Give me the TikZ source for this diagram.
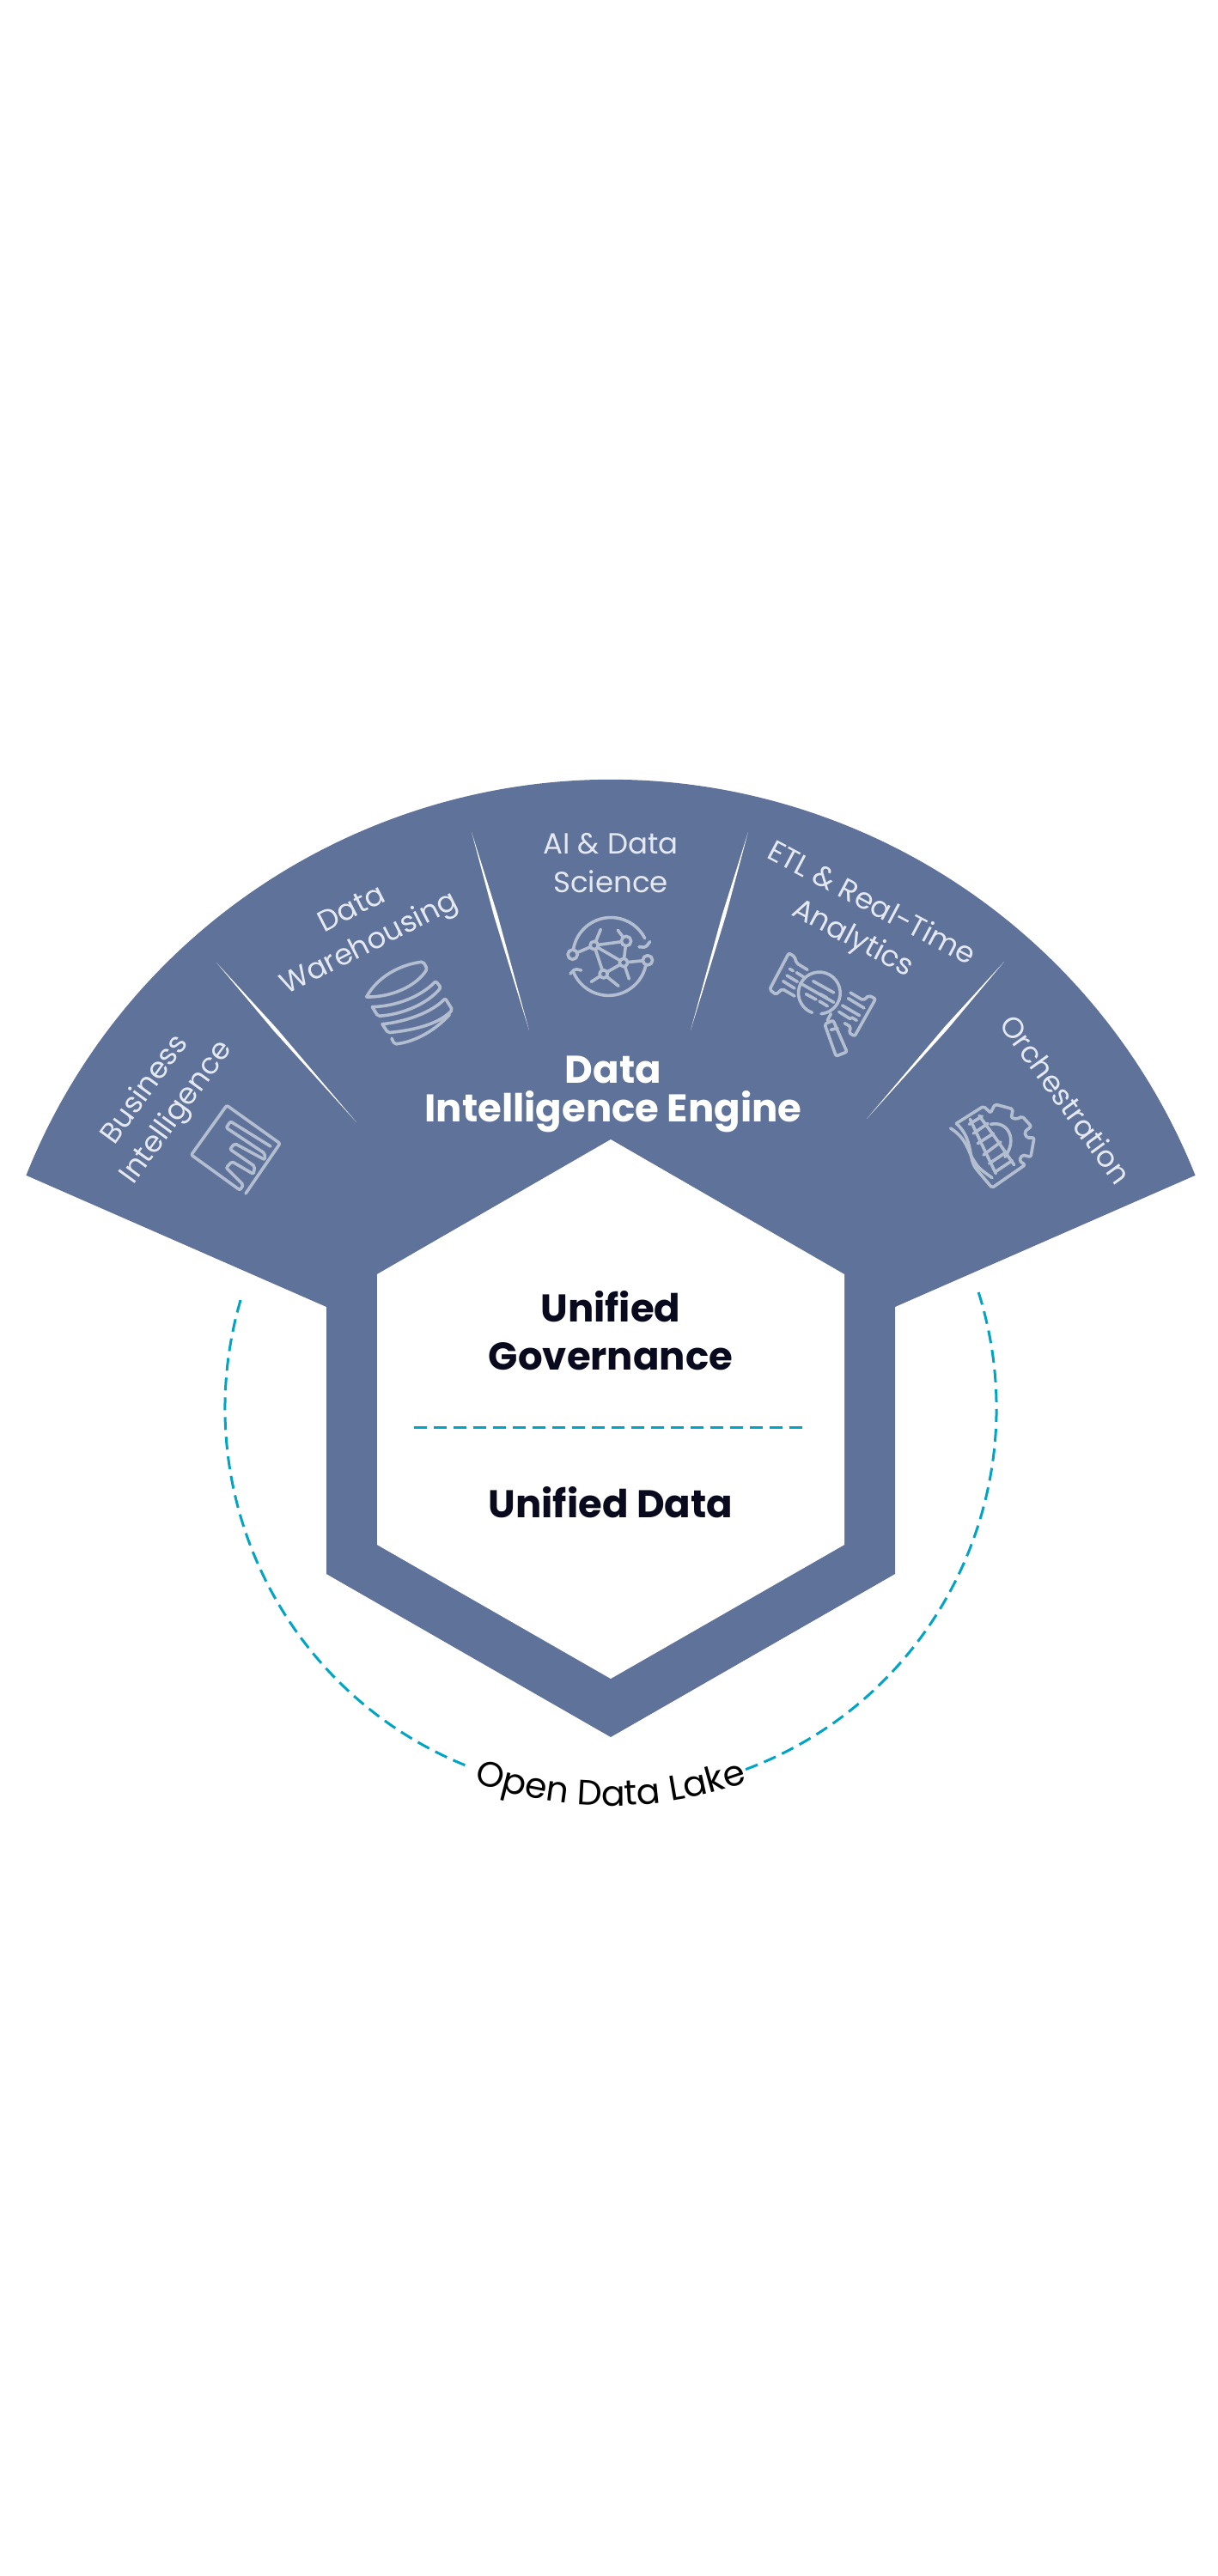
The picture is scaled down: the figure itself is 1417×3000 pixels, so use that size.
\documentclass[tikz,border=0pt]{standalone}
\usepackage{fontspec}
\setmainfont{Poppins}
\newfontfamily\thinface{Poppins}[UprightFont=* Regular]
\newfontfamily\heavyface{Poppins}[UprightFont=* Bold]
\usepackage{xcolor}
\definecolor{fanBlue}{HTML}{5F7299}
\definecolor{iconGrey}{HTML}{B4BED1}
\definecolor{labelGrey}{HTML}{E4E8F0}
\definecolor{lakeTeal}{HTML}{00A4C4}
\definecolor{inkNavy}{HTML}{0A0A1E}
\usetikzlibrary{calc, decorations.text}

\begin{document}
\begin{tikzpicture}[
    x=1pt, y=-1pt,
    fanlabel/.style={
        align=center,
        text=labelGrey,
        inner sep=0pt,
        font=\thinface\fontsize{34}{45}\selectfont
    },
    enginelabel/.style={
        align=center,
        text=white,
        inner sep=0pt,
        font=\heavyface\fontsize{45}{45}\selectfont
    },
    corelabel/.style={
        align=center,
        text=inkNavy,
        inner sep=0pt,
        font=\heavyface\fontsize{45}{56}\selectfont
    },
    lakeline/.style={
        draw=lakeTeal,
        line width=3pt,
        dash pattern=on 15pt off 8pt
    },
    iconline/.style={
        draw=iconGrey,
        line width=3.6pt,
        line cap=round,
        line join=round,
        rounded corners=2pt
    },
    iconbox/.style={
        shift={(#1)}, x=0.3333pt, y=-0.3333pt
    }
]
\useasboundingbox (0,0) rectangle (1417,3000);

% fan and hexagon
\fill[fanBlue] (711,1641) ++(201.8:733) arc[start angle=201.8, end angle=338.2, radius=733]
    -- (1042,1522) -- (1042,1833) -- (711,2023) -- (380,1833) -- (380,1522) -- cycle;
\fill[white] (711,1327) -- (983,1484) -- (983,1799) -- (711,1955) -- (439,1799) -- (439,1484) -- cycle;

% white slivers between the sectors
\foreach \ax/\ay/\bx/\by in {252/1121/415/1307, 549/969/616/1200, 871/969/804/1200, 1169/1120/1009/1303} {
    \coordinate (tipa) at (\ax,\ay);
    \coordinate (tipb) at (\bx,\by);
    \fill[white] (tipa) -- ($(tipa)!.42!(tipb)!2.2pt!90:(tipb)$) -- (tipb)
        -- ($(tipa)!.42!(tipb)!2.2pt!-90:(tipb)$) -- cycle;
}

\node[fanlabel, rotate=54] (bi) at (188,1283) {Business\\Intelligence};
\node[fanlabel, rotate=27] (dw) at (421,1081) {Data\\Warehousing};
\node[fanlabel] (ai) at (711,1005) {AI \& Data\\Science};
\node[fanlabel, rotate=-28] (etl) at (1003,1074) {ETL \& Real-Time\\Analytics};
\node[fanlabel, rotate=-54] (orch) at (1241,1280) {Orchestration};

\node[enginelabel] (engine) at (714,1274) {Data\\Intelligence Engine};
\node[corelabel] (gov) at (711,1550) {Unified\\Governance};
\node[corelabel] (unidata) at (711,1750) {Unified Data};

% open data lake
\draw[lakeline] (482,1662) -- (939,1662);
\draw[lakeline] (711,1640) ++(196.3:449) arc[start angle=196.3, end angle=111.8, radius=449];
\draw[lakeline] (711,1640) ++(-17.5:449) arc[start angle=-17.5, end angle=70.2, radius=449];
\path[decorate, decoration={text along path, text align=center,
    text={|\thinface\fontsize{41}{41}\selectfont\color{black}|Open Data Lake}}]
    (711,1640) ++(118:463) arc[start angle=118, end angle=62, radius=463];

% business intelligence icon
\begin{scope}[iconbox={200,1280}]
\draw[iconline] (258,330) -- (378,155) -- (192,22) -- (68,195) -- (238,318) -- (250,300) -- (190,240)
    -- (210,218) -- (285,262) -- (290,235) -- (203,175) -- (220,155) -- (325,212) -- (325,190)
    -- (190,100) -- (205,78) -- (345,165);
\end{scope}

% warehousing icon
\begin{scope}[iconbox={410,1100}]
\draw[iconline] (50,183) .. controls (90,110) and (170,70) .. (248,60) -- (262,85)
    .. controls (220,150) and (130,185) .. (50,183);
\draw[iconline] (70,218) -- (90,250) .. controls (170,245) and (260,210) .. (310,150) -- (292,128)
    .. controls (240,180) and (160,215) .. (70,218);
\draw[iconline] (105,278) -- (125,308) .. controls (210,300) and (300,280) .. (350,228) -- (325,188)
    .. controls (280,235) and (190,270) .. (105,278);
\draw[iconline] (138,328) -- (148,348) .. controls (220,340) and (290,300) .. (340,245);
\end{scope}

% data science icon
\begin{scope}[iconbox={640,1050}]
\draw[iconline] (82,170) arc[start angle=188, end angle=333, radius=133];
\draw[iconline] (312,158) -- (335,160) -- (350,140);
\draw[iconline] (335,225) arc[start angle=13, end angle=158, radius=133];
\draw[iconline] (72,252) -- (88,235) -- (110,240);
\foreach \ax/\ay/\bx/\by in {80/185/155/153, 155/153/267/138, 155/153/178/97, 267/138/238/100,
    267/138/258/213, 155/153/258/213, 155/153/188/253, 188/253/258/213, 258/213/342/205,
    258/213/277/270, 188/253/145/280, 188/253/240/295}
    \draw[iconline] (\ax,\ay) -- (\bx,\by);
\foreach \cx/\cy/\rr in {80/185/17, 155/153/14, 267/138/17, 258/213/14, 188/253/14, 342/205/17}
    \draw[iconline, fill=fanBlue] (\cx,\cy) circle[radius=\rr];
\end{scope}

% analytics icon
\begin{scope}[iconbox={880,1090}]
\draw[iconline] (180,118) -- (142,95) -- (135,72) -- (115,60) -- (48,187) -- (70,205) -- (92,185) -- (135,210);
\draw[iconline] (330,198) -- (375,225) -- (395,208) -- (418,220) -- (345,350) -- (325,338) -- (332,318) -- (310,305);
\foreach \ax/\ay/\bx/\by in {118/115/130/122, 142/128/172/147, 108/138/145/160, 155/165/272/232,
    95/158/135/183, 200/158/272/198, 175/203/210/222, 225/203/248/216, 222/228/250/245,
    322/218/378/252, 302/243/362/278, 290/265/330/290, 335/285/352/295}
    \draw[iconline] (\ax,\ay) -- (\bx,\by);
\draw[iconline] (228,272) arc[start angle=85, end angle=-250, radius=73];
\draw[iconline] (262,272) -- (250,295);
\draw[iconline] (240,308) -- (270,295) -- (318,405) -- (280,420) -- cycle;
\draw[iconline] (262,328) -- (285,322);
\end{scope}

% orchestration icon
\begin{scope}[iconbox={1090,1270}]
\draw[iconline] (70,115) -- (165,55) -- (190,78) -- (205,48) -- (268,65) -- (262,95) -- (282,100) -- (300,90)
    -- (332,125) -- (308,145) -- (316,165) -- (342,165) -- (330,232) -- (300,225) -- (290,245) -- (310,260)
    -- (195,340) -- (140,275) .. controls (110,230) and (130,170) .. (70,115);
\draw[iconline] (50,132) .. controls (110,170) and (110,215) .. (135,250) .. controls (150,275) and (175,290) .. (195,305);
\draw[iconline] (118,100) -- (160,190) -- (208,290);
\draw[iconline] (150,88) -- (210,170) -- (272,260);
\foreach \ax/\ay/\bx/\by in {115/118/160/90, 130/150/180/115, 145/185/200/150, 165/225/225/180,
    185/255/245/215, 205/285/265/245}
    \draw[iconline] (\ax,\ay) -- (\bx,\by);
\draw[iconline] (190,118) .. controls (250,105) and (285,170) .. (240,232);
\end{scope}
\end{tikzpicture}
\end{document}
